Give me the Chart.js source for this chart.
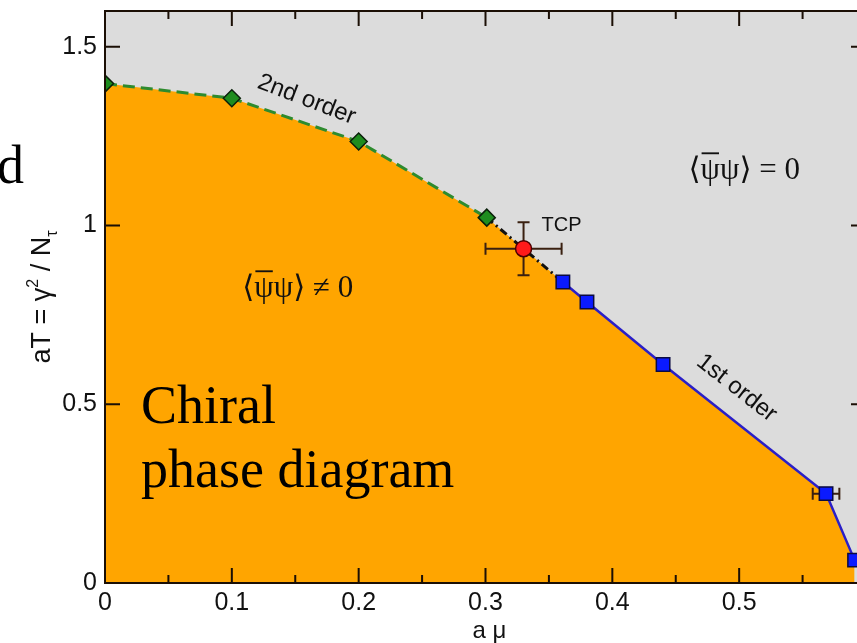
<!DOCTYPE html>
<html><head><meta charset="utf-8">
<script src="https://cdn.jsdelivr.net/npm/chart.js@4/dist/chart.umd.min.js"></script>
<style>
html,body{margin:0;padding:0;background:#fff;overflow:hidden;width:857px;height:643px}
canvas{display:block}
</style></head>
<body>
<canvas id="c" width="877" height="643" style="width:877px;height:643px"></canvas>
<script>
// ---- data ----
const xTickValues = [0, 0.1, 0.2, 0.3, 0.4, 0.5];
const yTickValues = [0, 0.5, 1, 1.5];
const secondOrderX = [0, 0.1, 0.2, 0.301];
const secondOrderY = [1.397, 1.356, 1.235, 1.022];
const tcpX = [0.330];
const tcpY = [0.935];
const tcpXErr = [0.030];
const tcpYErr = [0.074];
const firstOrderX = [0.361, 0.380, 0.440, 0.5685, 0.591];
const firstOrderY = [0.842, 0.786, 0.611, 0.250, 0.064];
const firstOrderXErr = [0, 0, 0, 0.0105, 0];

const pts = (xs, ys) => xs.map((x, i) => ({x, y: ys[i]}));
const boundary = pts(secondOrderX, secondOrderY)
  .concat(pts(tcpX, tcpY))
  .concat(pts(firstOrderX, firstOrderY));
const dashDot = [pts(secondOrderX, secondOrderY).slice(-1)[0], pts(tcpX, tcpY)[0], pts(firstOrderX, firstOrderY)[0]];

const SANS = "'Liberation Sans', Arial, Helvetica, sans-serif";
const SERIF = "'Liberation Serif', 'Times New Roman', 'DejaVu Serif', serif";
const INK = '#1b0f05';

const bgPlugin = {
  id: 'bg',
  beforeDraw(chart) {
    const {ctx, chartArea: a} = chart;
    ctx.save();
    ctx.fillStyle = '#dcdcdc';
    ctx.fillRect(a.left, a.top, a.right - a.left, a.bottom - a.top);
    ctx.restore();
  }
};

function drawErrBars(chart) {
  const {ctx} = chart;
  const xs = chart.scales.x, ys = chart.scales.y;
  ctx.save();
  ctx.strokeStyle = '#3a2010';
  ctx.lineWidth = 2;
  const cap = 6;
  const bar = (x, y, ex, ey) => {
    const px = xs.getPixelForValue(x), py = ys.getPixelForValue(y);
    if (ex > 0) {
      const l = xs.getPixelForValue(x - ex), r = xs.getPixelForValue(x + ex);
      ctx.beginPath();
      ctx.moveTo(l, py); ctx.lineTo(r, py);
      ctx.moveTo(l, py - cap); ctx.lineTo(l, py + cap);
      ctx.moveTo(r, py - cap); ctx.lineTo(r, py + cap);
      ctx.stroke();
    }
    if (ey > 0) {
      const t = ys.getPixelForValue(y + ey), b = ys.getPixelForValue(y - ey);
      ctx.beginPath();
      ctx.moveTo(px, t); ctx.lineTo(px, b);
      ctx.moveTo(px - cap, t); ctx.lineTo(px + cap, t);
      ctx.moveTo(px - cap, b); ctx.lineTo(px + cap, b);
      ctx.stroke();
    }
  };
  tcpX.forEach((x, i) => bar(x, tcpY[i], tcpXErr[i], tcpYErr[i]));
  firstOrderX.forEach((x, i) => bar(x, firstOrderY[i], firstOrderXErr[i], 0));
  ctx.restore();
}

const errPlugin = {
  id: 'errbars',
  beforeDatasetDraw(chart, args) {
    if (chart.data.datasets[args.index].label === '2nd order points') drawErrBars(chart);
  }
};

function psiExpr(ctx, cx, base, rel, size) {
  ctx.save();
  ctx.font = size + 'px ' + SERIF;
  ctx.fillStyle = '#111';
  ctx.textBaseline = 'alphabetic';
  ctx.textAlign = 'left';
  const parts = ['\u27E8', '\u03C8', '\u03C8', '\u27E9', ' ' + rel + ' 0'];
  const widths = parts.map(p => ctx.measureText(p).width);
  const total = widths.reduce((a, b) => a + b, 0);
  let x = cx - total / 2;
  parts.forEach((p, i) => {
    ctx.fillText(p, x, base);
    if (i === 1) {
      ctx.fillRect(x + 1, base - size * 0.86, widths[i] - 2, Math.max(1.5, size * 0.06));
    }
    x += widths[i];
  });
  ctx.restore();
}

const overlayPlugin = {
  id: 'overlay',
  afterDraw(chart) {
    const {ctx, chartArea: a} = chart;
    const xs = chart.scales.x, ys = chart.scales.y;
    ctx.save();
    // frame
    ctx.strokeStyle = INK;
    ctx.lineWidth = 2;
    ctx.strokeRect(a.left, a.top, a.right - a.left, a.bottom - a.top);
    // x ticks (major 0.1, minor 0.05), inward on bottom and top
    for (let k = 0; k <= 12; k++) {
      const px = xs.getPixelForValue(k * 0.05);
      const len = k % 2 === 0 ? 15 : 8;
      ctx.beginPath();
      ctx.moveTo(px, a.bottom); ctx.lineTo(px, a.bottom - len);
      ctx.moveTo(px, a.top); ctx.lineTo(px, a.top + len);
      ctx.stroke();
    }
    yTickValues.forEach(v => {
      const py = ys.getPixelForValue(v);
      ctx.beginPath();
      ctx.moveTo(a.left, py); ctx.lineTo(a.left + 15, py);
      ctx.moveTo(a.right, py); ctx.lineTo(a.right - 15, py);
      ctx.stroke();
    });

    // axis titles
    ctx.fillStyle = '#111';
    ctx.font = '24px ' + SANS;
    ctx.textAlign = 'center';
    ctx.textBaseline = 'alphabetic';
    ctx.fillText('a \u03BC', (a.left + a.right) / 2 + 4, 638);

    // y title with super/subscripts, rotated
    ctx.save();
    ctx.translate(50, (a.top + a.bottom) / 2);
    ctx.rotate(-Math.PI / 2);
    const segs = [
      {t: 'aT = \u03B3', s: 27, dy: 0},
      {t: '2', s: 16, dy: -12},
      {t: ' / N', s: 27, dy: 0},
      {t: '\u03C4', s: 16, dy: 7}
    ];
    ctx.textAlign = 'left';
    let tw = 0;
    segs.forEach(g => { ctx.font = g.s + 'px ' + SANS; g.w = ctx.measureText(g.t).width; tw += g.w; });
    let sx = -tw / 2;
    segs.forEach(g => { ctx.font = g.s + 'px ' + SANS; ctx.fillText(g.t, sx, g.dy); sx += g.w; });
    ctx.restore();

    // curve labels
    const rotText = (txt, x, y, deg, size) => {
      ctx.save();
      ctx.translate(xs.getPixelForValue(x), ys.getPixelForValue(y));
      ctx.rotate(deg * Math.PI / 180);
      ctx.font = size + 'px ' + SANS;
      ctx.fillStyle = '#111';
      ctx.textAlign = 'center';
      ctx.textBaseline = 'middle';
      ctx.fillText(txt, 0, 0);
      ctx.restore();
    };
    rotText('2nd order', 0.159, 1.352, 21, 24);
    rotText('1st order', 0.498, 0.545, 38, 24);
    rotText('TCP', 0.36, 1.0, 0, 20);

    // phase labels
    psiExpr(ctx, xs.getPixelForValue(0.504), ys.getPixelForValue(1.13), '=', 31);
    psiExpr(ctx, xs.getPixelForValue(0.152), ys.getPixelForValue(0.80), '\u2260', 31);

    // big serif caption
    ctx.font = '54px ' + SERIF;
    ctx.fillStyle = '#000';
    ctx.textAlign = 'left';
    ctx.textBaseline = 'alphabetic';
    ctx.fillText('Chiral', 141, 423);
    ctx.fillText('phase diagram', 141, 487);
    ctx.fillText('d', -3, 183);
    ctx.restore();
  }
};

new Chart(document.getElementById('c'), {
  type: 'line',
  data: {
    datasets: [
      {label: 'ordered phase', data: boundary, order: 10, fill: 'origin',
       backgroundColor: '#ffa500', borderWidth: 0, pointRadius: 0, tension: 0},
      {label: '2nd order', data: pts(secondOrderX, secondOrderY), order: 8, fill: false,
       borderColor: '#2e8b2e', borderWidth: 3, borderDash: [12, 6], pointRadius: 0},
      {label: 'crossover', data: dashDot, order: 7, fill: false,
       borderColor: '#111', borderWidth: 3, borderDash: [8, 4, 2, 4], pointRadius: 0},
      {label: '1st order', data: pts(firstOrderX, firstOrderY), order: 6, fill: false,
       borderColor: '#2a1fc8', borderWidth: 2.5, pointRadius: 0},
      {label: '2nd order points', data: pts(secondOrderX, secondOrderY), order: 3, showLine: false,
       pointStyle: 'rectRot', pointRadius: 8.5, pointBackgroundColor: '#1e8c1e',
       pointBorderColor: '#0a200a', pointBorderWidth: 1.5},
      {label: 'TCP', data: pts(tcpX, tcpY), order: 2, showLine: false,
       pointStyle: 'circle', pointRadius: 8, pointBackgroundColor: '#ff1a1a',
       pointBorderColor: '#4a0000', pointBorderWidth: 1.5},
      {label: '1st order points', data: pts(firstOrderX, firstOrderY), order: 1, showLine: false,
       pointStyle: 'rect', pointRadius: 9.5, pointBackgroundColor: '#0a1aff',
       pointBorderColor: '#0a0a40', pointBorderWidth: 1.5}
    ]
  },
  options: {
    responsive: false,
    animation: false,
    events: [],
    layout: {padding: {top: 7, right: 10, left: 0, bottom: 0}},
    plugins: {legend: {display: false}, tooltip: {enabled: false}, title: {display: false}},
    scales: {
      x: {
        type: 'linear', min: 0, max: 0.6,
        afterBuildTicks: s => { s.ticks = xTickValues.map(v => ({value: v})); },
        afterFit: s => { s.height = 60; s.paddingLeft = 0; s.paddingRight = 0; },
        ticks: {callback: v => String(v), font: {family: SANS, size: 25}, color: '#111', padding: 5, maxRotation: 0, autoSkip: false},
        grid: {display: false, drawTicks: false},
        border: {display: false}
      },
      y: {
        type: 'linear', min: 0, max: 1.6,
        afterBuildTicks: s => { s.ticks = yTickValues.map(v => ({value: v})); },
        afterFit: s => { s.width = 105; s.paddingTop = 0; s.paddingBottom = 0; },
        ticks: {callback: v => String(v), font: {family: SANS, size: 25}, color: '#111', padding: 8},
        grid: {display: false, drawTicks: false},
        border: {display: false}
      }
    }
  },
  plugins: [bgPlugin, errPlugin, overlayPlugin]
});
</script>
</body></html>
